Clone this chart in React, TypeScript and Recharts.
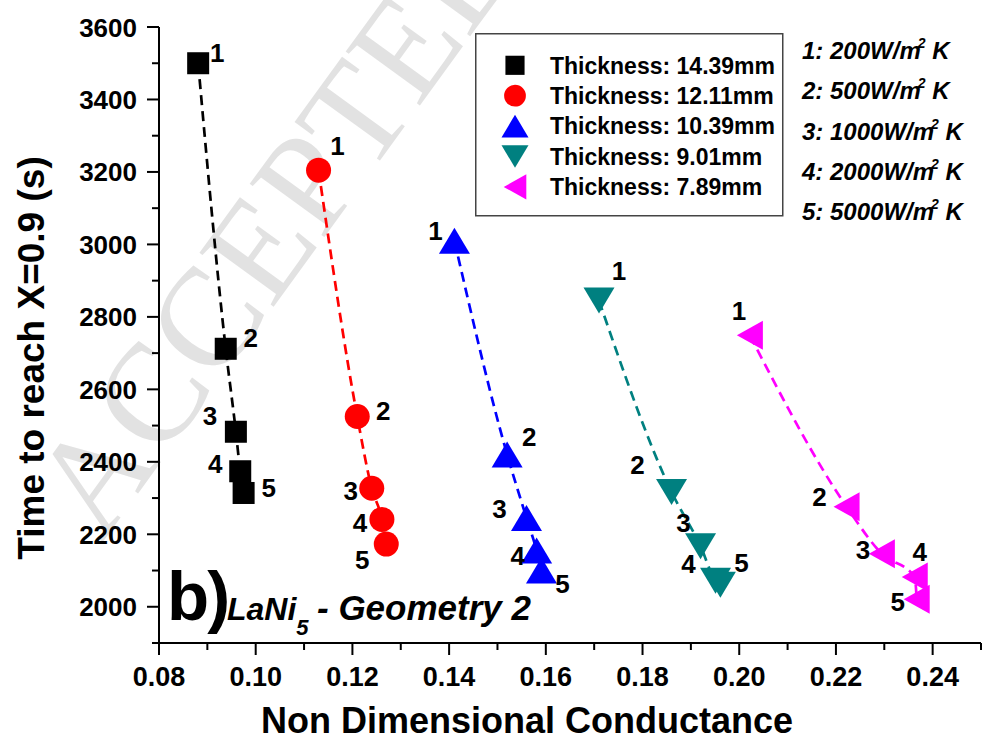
import React from 'react';
import { ScatterChart, Scatter, XAxis, YAxis, Legend } from 'recharts';

const W = 984;
const H = 740;
const FONT = "'Liberation Sans', Arial, Helvetica, sans-serif";

// Non dimensional conductance (x) vs time to reach X=0.9 in s (y), points 1..5 per thickness
const pointIds = [1, 2, 3, 4, 5];

const x1439 = [0.0881, 0.0938, 0.0959, 0.0968, 0.0975];
const y1439 = [3500, 2712, 2483, 2374, 2314];

const x1211 = [0.113, 0.121, 0.124, 0.1261, 0.127];
const y1211 = [3205, 2525, 2327, 2241, 2173];

const x1039 = [0.1411, 0.152, 0.156, 0.1581, 0.1591];
const y1039 = [3010, 2420, 2245, 2155, 2100];

const x901 = [0.171, 0.186, 0.192, 0.1951, 0.1961];
const y901 = [2845, 2317, 2167, 2072, 2061];

const x789 = [0.2022, 0.2222, 0.2295, 0.2363, 0.2367];
const y789 = [2749, 2276, 2146, 2082, 2021];

const seriesNames = [
  'Thickness: 14.39mm',
  'Thickness: 12.11mm',
  'Thickness: 10.39mm',
  'Thickness: 9.01mm',
  'Thickness: 7.89mm',
];

const heatCoefficients = ['1: 200', '2: 500', '3: 1000', '4: 2000', '5: 5000'];

const xTicks = [0.08, 0.09, 0.1, 0.11, 0.12, 0.13, 0.14, 0.15, 0.16, 0.17, 0.18, 0.19, 0.2, 0.21, 0.22, 0.23, 0.24, 0.25];
const yTicks = [1900, 2000, 2100, 2200, 2300, 2400, 2500, 2600, 2700, 2800, 2900, 3000, 3100, 3200, 3300, 3400, 3500, 3600];

// where the point number sits relative to its marker, in px
const labelOffsets = [
  [[19, -11], [25, -11], [-26, -16], [-25, -8], [25, -5]],
  [[19, -25], [26, -6], [-21, 2], [-22, 3], [-24, 15]],
  [[-19, -10], [22, -18], [-27, -9], [-19, 5], [21, 13]],
  [[20, -30], [-34, -27], [-17, -24], [-27, -17], [21, -22]],
  [[-11, -25], [-27, -10], [-19, -4], [5, -26], [-19, 2]],
];

type MarkerKind = 'square' | 'circle' | 'up' | 'down' | 'left';

const toPoints = (xs: number[], ys: number[]) =>
  xs.map((x, i) => ({ x, y: ys[i], n: pointIds[i] }));

const SERIES: { name: string; color: string; marker: MarkerKind; data: { x: number; y: number; n: number }[] }[] = [
  { name: seriesNames[0], color: '#000000', marker: 'square', data: toPoints(x1439, y1439) },
  { name: seriesNames[1], color: '#ff0000', marker: 'circle', data: toPoints(x1211, y1211) },
  { name: seriesNames[2], color: '#0000ff', marker: 'up', data: toPoints(x1039, y1039) },
  { name: seriesNames[3], color: '#008080', marker: 'down', data: toPoints(x901, y901) },
  { name: seriesNames[4], color: '#ff00ff', marker: 'left', data: toPoints(x789, y789) },
];

function Marker({ kind, cx, cy, color, k = 1 }: { kind: MarkerKind; cx: number; cy: number; color: string; k?: number }) {
  if (kind === 'square') {
    const s = 11 * k;
    return <rect x={cx - s} y={cy - s} width={2 * s} height={2 * s} fill={color} />;
  }
  if (kind === 'circle') return <circle cx={cx} cy={cy} r={12.5 * k} fill={color} />;
  if (kind === 'left') {
    const w = 13 * k;
    const h = 14.5 * k;
    return <polygon points={`${cx - w},${cy} ${cx + w},${cy - h} ${cx + w},${cy + h}`} fill={color} />;
  }
  const w = 15.5 * k;
  const h = 13 * k;
  if (kind === 'up') return <polygon points={`${cx},${cy - h} ${cx + w},${cy + h} ${cx - w},${cy + h}`} fill={color} />;
  return <polygon points={`${cx - w},${cy - h} ${cx + w},${cy - h} ${cx},${cy + h}`} fill={color} />;
}

const makeShape = (si: number) => (props: any) => {
  const { cx, cy, payload } = props;
  const s = SERIES[si];
  const [dx, dy] = labelOffsets[si][payload.n - 1];
  return (
    <g>
      <Marker kind={s.marker} cx={cx} cy={cy} color={s.color} />
      <text x={cx + dx} y={cy + dy + 9.5} textAnchor="middle" fontFamily={FONT} fontWeight="bold" fontSize={26} fill="#000">
        {payload.n}
      </text>
    </g>
  );
};

const LeftTick = ({ x, y, payload }: any) => {
  const v = payload.value;
  const major = v % 200 === 0;
  return (
    <g>
      <line x1={x} x2={x - (major ? 12 : 7)} y1={y} y2={y} stroke="#000" strokeWidth={2} />
      {major && (
        <text x={x - 22} y={y + 9.5} textAnchor="end" fontFamily={FONT} fontWeight="bold" fontSize={26} fill="#000">
          {v}
        </text>
      )}
    </g>
  );
};

const BottomTick = ({ x, y, payload }: any) => {
  const v = payload.value;
  const major = Math.round(v * 100) % 2 === 0;
  return (
    <g>
      <line x1={x} x2={x} y1={y} y2={y + (major ? 12 : 7)} stroke="#000" strokeWidth={2} />
      {major && (
        <text x={x} y={y + 43} textAnchor="middle" fontFamily={FONT} fontWeight="bold" fontSize={27} fill="#000">
          {v.toFixed(2)}
        </text>
      )}
    </g>
  );
};

const TopTick = ({ x, y }: any) => <line x1={x} x2={x} y1={y} y2={y - 3} stroke="#000" strokeWidth={1.5} />;
const RightTick = ({ x, y }: any) => <line x1={x} x2={x + 3} y1={y} y2={y} stroke="#000" strokeWidth={1.5} />;

const renderLegend = () => (
  <svg width={310} height={186} style={{ display: 'block' }}>
    <rect x={0.75} y={0.75} width={307} height={182} fill="#fff" stroke="#444" strokeWidth={1.5} />
    {SERIES.map((s, i) => {
      const cy = 32.3 + i * 30.4;
      return (
        <g key={s.name}>
          <Marker kind={s.marker} cx={40} cy={cy} color={s.color} k={0.87} />
          <text x={75} y={cy + 8.3} fontFamily={FONT} fontWeight="bold" fontSize={23} fill="#000">
            {s.name}
          </text>
        </g>
      );
    })}
  </svg>
);

const xTitle = () => (
  <text x={527} y={733} textAnchor="middle" fontFamily={FONT} fontWeight="bold" fontSize={36} fill="#000">
    Non Dimensional Conductance
  </text>
);

const yTitle = () => (
  <text
    x={0}
    y={0}
    transform="translate(44, 358) rotate(-90)"
    textAnchor="middle"
    fontFamily={FONT}
    fontWeight="bold"
    fontSize={37}
    fill="#000"
  >
    Time to reach X=0.9 (s)
  </text>
);

function Watermark() {
  return (
    <svg width={W} height={H} style={{ position: 'absolute', left: 0, top: 0 }}>
      <text
        transform="translate(102, 543) rotate(-54)"
        fontFamily="'Liberation Serif', 'Times New Roman', serif"
        fontSize={140}
        fill="#e2e2e2"
      >
        ACCEPTED MANUSCRIPT
      </text>
    </svg>
  );
}

function Notes() {
  const base = [58.5, 99, 139.5, 179.5, 219.5];
  return (
    <svg width={W} height={H} style={{ position: 'absolute', left: 0, top: 0, pointerEvents: 'none' }}>
      {heatCoefficients.map((t, i) => (
        <text key={t} x={802} y={base[i]} fontFamily={FONT} fontWeight="bold" fontStyle="italic" fontSize={24} fill="#000">
          {t}W/m
          <tspan fontSize={14} dx={-3} dy={-11}>2</tspan>
          <tspan dy={11}> K</tspan>
        </text>
      ))}
      <text x={167} y={620} fontFamily={FONT} fontWeight="bold" fontSize={69} letterSpacing={-2} fill="#000">
        b)
      </text>
      <text x={227} y={620} fontFamily={FONT} fontWeight="bold" fontStyle="italic" fontSize={32} fill="#000">
        LaNi
        <tspan fontSize={22} dy={15}>5</tspan>
        <tspan x={317} dy={-15} fontSize={35}>- Geometry 2</tspan>
      </text>
    </svg>
  );
}

export default function App() {
  return (
    <div style={{ position: 'absolute', left: 0, top: 0, width: W, height: H, background: '#fff', overflow: 'hidden' }}>
      <Watermark />
      <div style={{ position: 'absolute', left: 0, top: 0 }}>
        <ScatterChart width={W} height={H} margin={{ top: 27, right: 3, bottom: 0, left: 0 }}>
          <XAxis
            dataKey="x"
            type="number"
            domain={[0.08, 0.25]}
            ticks={xTicks}
            height={97}
            tickSize={0}
            tickMargin={0}
            tickLine={false}
            tick={<BottomTick />}
            axisLine={{ stroke: '#000', strokeWidth: 2 }}
            interval={0}
            label={{ content: xTitle }}
          />
          <XAxis
            xAxisId="top"
            orientation="top"
            type="number"
            domain={[0.08, 0.25]}
            ticks={xTicks}
            height={0}
            tickSize={0}
            tickMargin={0}
            tickLine={false}
            tick={<TopTick />}
            axisLine={{ stroke: '#000', strokeWidth: 2 }}
            interval={0}
          />
          <YAxis
            dataKey="y"
            type="number"
            domain={[1900, 3600]}
            ticks={yTicks}
            width={159}
            tickSize={0}
            tickMargin={0}
            tickLine={false}
            tick={<LeftTick />}
            axisLine={{ stroke: '#000', strokeWidth: 2 }}
            interval={0}
            label={{ content: yTitle }}
          />
          <YAxis
            yAxisId="right"
            orientation="right"
            type="number"
            domain={[1900, 3600]}
            ticks={yTicks}
            width={0}
            tickSize={0}
            tickMargin={0}
            tickLine={false}
            tick={<RightTick />}
            axisLine={{ stroke: '#000', strokeWidth: 2 }}
            interval={0}
          />
          <Legend
            layout="vertical"
            align="center"
            verticalAlign="middle"
            content={renderLegend}
            wrapperStyle={{ left: 475, top: 33, width: 310, height: 186 }}
          />
          {SERIES.map((s, i) => (
            <Scatter
              key={s.name}
              name={s.name}
              data={s.data}
              fill={s.color}
              shape={makeShape(i)}
              line={{ stroke: s.color, strokeWidth: 2.7, strokeDasharray: '10 6' }}
              lineJointType="monotoneX"
              isAnimationActive={false}
            />
          ))}
        </ScatterChart>
      </div>
      <Notes />
    </div>
  );
}
